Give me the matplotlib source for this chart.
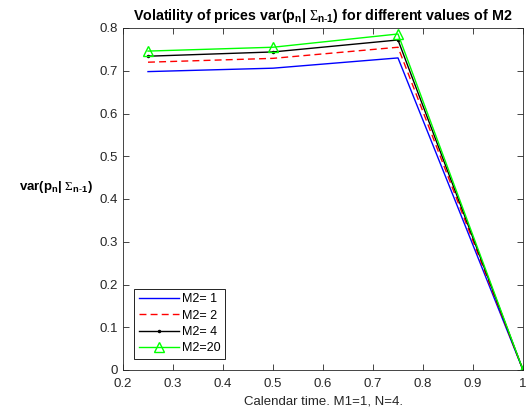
import matplotlib
matplotlib.use('Agg')
from matplotlib import pyplot as plt

plt.rcParams['font.family'] = ['Liberation Sans', 'DejaVu Sans']
plt.rcParams['mathtext.fontset'] = 'custom'
plt.rcParams['mathtext.rm'] = 'Liberation Serif'
plt.rcParams['mathtext.it'] = 'Liberation Sans'
plt.rcParams['mathtext.bf'] = 'Liberation Sans:bold'

calendar_time = [0.25, 0.5, 0.75, 1.0]
var_m2_1 = [0.698, 0.706, 0.730, 0.0]
var_m2_2 = [0.720, 0.729, 0.755, 0.0]
var_m2_4 = [0.734, 0.744, 0.772, 0.0]
var_m2_20 = [0.746, 0.755, 0.786, 0.0]
labels = ['M2= 1', 'M2= 2', 'M2= 4', 'M2=20']

fig = plt.figure(figsize=(5.32, 4.18), dpi=100)
ax = fig.add_axes([123 / 532, 1 - 370 / 418, 400 / 532, 342 / 418])

ax.plot(calendar_time, var_m2_1, color='blue', lw=1.0, label=labels[0])
ax.plot(calendar_time, var_m2_2, color='red', lw=1.0, ls=(0, (5, 3)), label=labels[1])
ax.plot(calendar_time, var_m2_4, color='black', lw=1.0, marker='.', ms=3, label=labels[2])
ax.plot(calendar_time, var_m2_20, color='#00ff00', lw=1.0, marker='^', ms=7,
        mfc='none', mec='#00ff00', label=labels[3])

ax.set_xlim(0.2, 1.0)
ax.set_ylim(0, 0.8)
ax.set_xticks([0.2, 0.3, 0.4, 0.5, 0.6, 0.7, 0.8, 0.9, 1.0],
              ['0.2', '0.3', '0.4', '0.5', '0.6', '0.7', '0.8', '0.9', '1'])
ax.set_yticks([0, 0.1, 0.2, 0.3, 0.4, 0.5, 0.6, 0.7, 0.8],
              ['0', '0.1', '0.2', '0.3', '0.4', '0.5', '0.6', '0.7', '0.8'])
ax.tick_params(direction='in', top=True, right=True, labelsize=9.5, colors='#262626',
               length=4, width=0.6)
ax.tick_params(axis='x', pad=6)
for s in ax.spines.values():
    s.set_color('#262626')
    s.set_linewidth(0.6)

sub = r'$_{\mathbf{n}}$| $\Sigma_{\mathbf{n}\text{-}\mathbf{1}}$'
ax.set_title('Volatility of prices var(p' + sub + ') for different values of M2',
             fontsize=10.3, fontweight='bold', pad=6)
ax.set_xlabel('Calendar time. M1=1, N=4.', fontsize=9.5, color='#262626', labelpad=4)
ax.set_ylabel('var(p' + sub + ')', fontsize=9.5, fontweight='bold',
              rotation=0, ha='center', va='center')
ax.yaxis.set_label_coords(-0.1675, 0.535)

leg = ax.legend(loc='lower left', fontsize=9, fancybox=False, framealpha=1,
                edgecolor='black', handlelength=3.2, borderpad=0.35, labelspacing=0.35,
                handletextpad=0.3, borderaxespad=0.9)
leg.get_frame().set_linewidth(0.6)

fig.savefig('out.png', dpi=100)
